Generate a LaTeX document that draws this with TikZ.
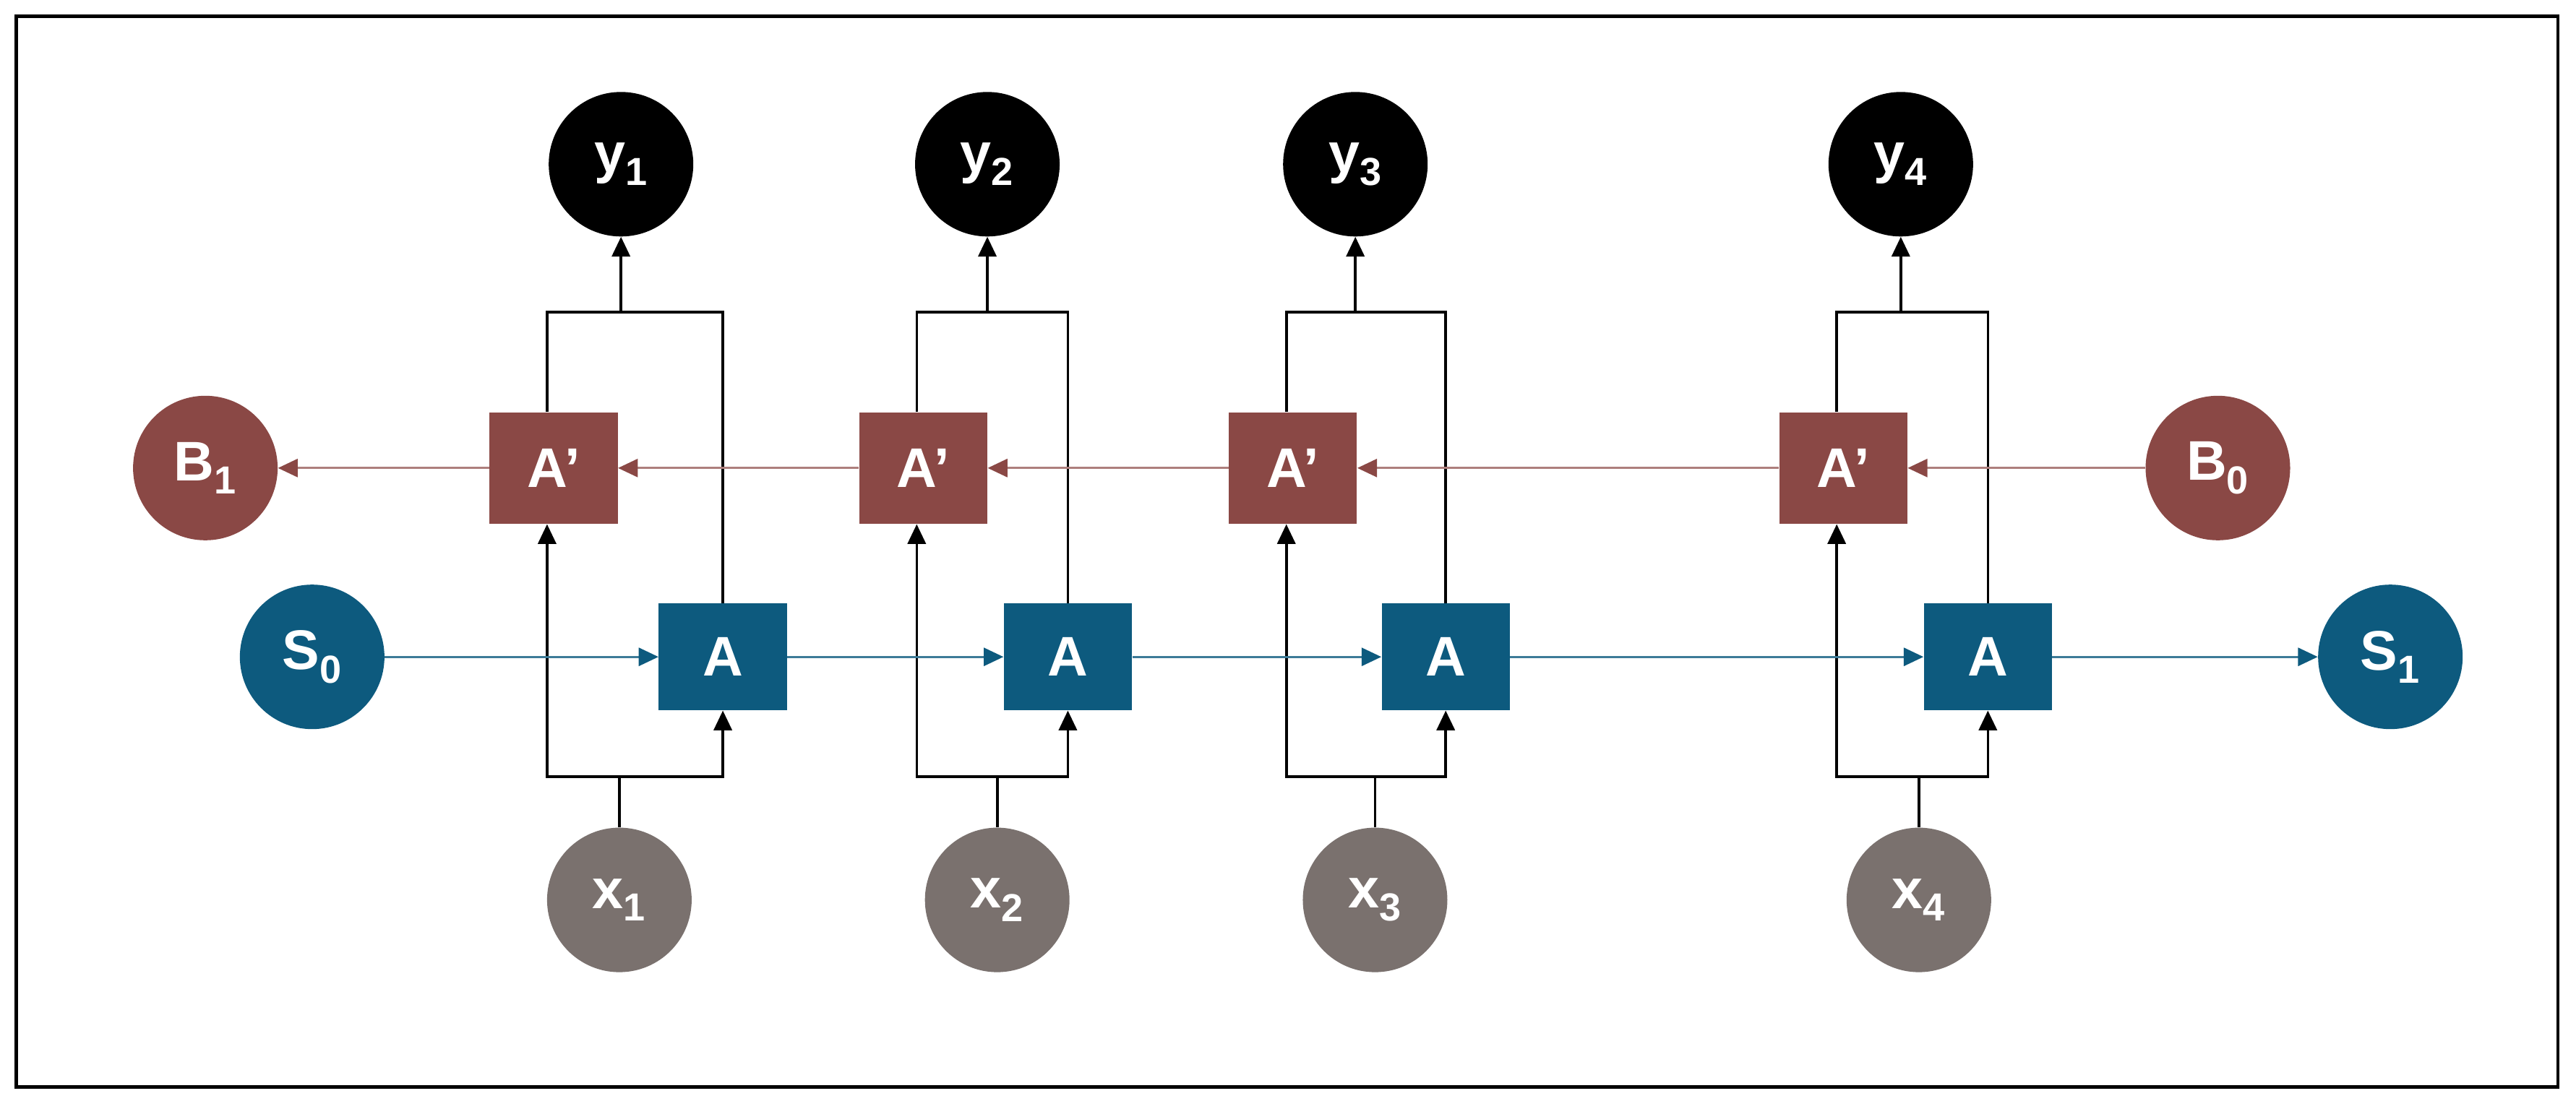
\documentclass[tikz,border=0pt]{standalone}
\usepackage{fontspec}
\setmainfont{Liberation Sans}
\usetikzlibrary{arrows.meta}
\definecolor{red1}{HTML}{8A4845}
\definecolor{blue1}{HTML}{0D5A7E}
\definecolor{gray1}{HTML}{7A716E}
\begin{document}
\begin{tikzpicture}[x=1pt,y=-1pt,
 lbl/.style={font=\fontsize{34}{38}\selectfont\bfseries,text=white,inner sep=0pt},
 circ/.style={circle,minimum size=88pt,lbl},
 box/.style={rectangle,minimum width=78pt,minimum height=68pt,lbl},
 blk/.style={black,line width=1.6pt},
 tip/.style={-{Triangle[length=12pt,width=11pt]}},
 rarr/.style={red1!70,line width=1.4pt,-{Triangle[length=12pt,width=11pt,red1]}},
 barr/.style={blue1!80,line width=1.4pt,-{Triangle[length=12pt,width=11pt,blue1]}}]
\useasboundingbox (0,0) rectangle (1568,675);
\draw[line width=2pt] (10,10) rectangle (1557,662);
\node[circ,fill=red1] (B1) at (125,285) {B$_{\mathbf 1}$};
\node[circ,fill=red1] (B0) at (1350,285) {B$_{\mathbf 0}$};
\node[circ,fill=blue1] (S0) at (190,400) {S$_{\mathbf 0}$};
\node[circ,fill=blue1] (S1) at (1455,400) {S$_{\mathbf 1}$};
\newcommand\mycol[5]{%
 \node[box,fill=red1] (P#1) at (#2,285) {A'};
 \node[box,fill=blue1,minimum height=65pt] (A#1) at (#3,400) {A};
 \node[circ,fill=black] (Y#1) at (#4,100) {y$_{\mathbf #1}$};
 \node[circ,fill=gray1] (X#1) at (#5,548) {x$_{\mathbf #1}$};
 \coordinate (jl#1) at (#2-4,190); \coordinate (jr#1) at (#3,190);
 \coordinate (jm#1) at (#4,190);
 \coordinate (bl#1) at (#2-4,473); \coordinate (br#1) at (#3,473);
 \coordinate (bm#1) at (#5,473);
 \draw[blk] (P#1.north -| jl#1) -- (jl#1) -- (jr#1) -- (A#1.north);
 \draw[blk,tip] (jm#1) -- (Y#1);
 \draw[blk] (X#1) -- (bm#1);
 \draw[blk,tip] (bm#1) -- (bl#1) -- (P#1.south -| bl#1);
 \draw[blk,tip] (bm#1) -- (br#1) -- (A#1.south);
}
\mycol{1}{337}{440}{378}{377}
\mycol{2}{562}{650}{601}{607}
\mycol{3}{787}{880}{825}{837}
\mycol{4}{1122}{1210}{1157}{1168}
\draw[rarr] (B0) -- (P4);
\draw[rarr] (P4) -- (P3);
\draw[rarr] (P3) -- (P2);
\draw[rarr] (P2) -- (P1);
\draw[rarr] (P1) -- (B1);
\draw[barr] (S0) -- (A1);
\draw[barr] (A1) -- (A2);
\draw[barr] (A2) -- (A3);
\draw[barr] (A3) -- (A4);
\draw[barr] (A4) -- (S1);
\end{tikzpicture}
\end{document}
